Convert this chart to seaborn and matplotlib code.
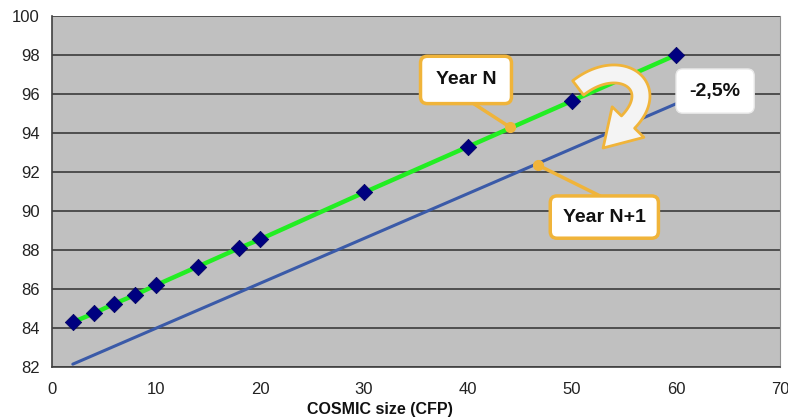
import matplotlib
matplotlib.use("Agg")
import matplotlib.pyplot as plt
from matplotlib.patches import Polygon
import numpy as np
import seaborn as sns
import pandas as pd

# Year N: measured productivity points
size_n = [2, 4, 6, 8, 10, 14, 18, 20, 30, 40, 50, 60]
value_n = [84.3, 84.75, 85.25, 85.7, 86.2, 87.15, 88.1, 88.55, 90.95, 93.3, 95.65, 98.0]
# Year N+1: trend line after the reduction
size_n1 = [2, 60]
value_n1 = [82.15, 95.5]

x_ticks = [0, 10, 20, 30, 40, 50, 60, 70]
y_ticks = [82, 84, 86, 88, 90, 92, 94, 96, 98, 100]
x_label = "COSMIC size (CFP)"
label_n = "Year N"
label_n1 = "Year N+1"
label_delta = "-2,5%"

df_n = pd.DataFrame({"size": size_n, "value": value_n})
df_n1 = pd.DataFrame({"size": size_n1, "value": value_n1})

sns.set_style("white")
plt.rcParams["font.family"] = ["Liberation Sans", "DejaVu Sans"]

fig = plt.figure(figsize=(7.88, 4.2), dpi=100)
ax = fig.add_axes([0.066, 0.126, 0.924, 0.836])
ax.set_facecolor("#c0c0c0")

orange = "#f0b43a"

sns.lineplot(data=df_n1, x="size", y="value", ax=ax, color="#3a5aa8", lw=2.2, zorder=3)
sns.lineplot(data=df_n, x="size", y="value", ax=ax, color="#22ee22", lw=3.2, zorder=3)
sns.scatterplot(data=df_n, x="size", y="value", ax=ax, marker="D", s=70,
                color="#000080", edgecolor="#000060", linewidth=0.5, zorder=4)

ax.set_xlim(0, 70)
ax.set_ylim(82, 100)
ax.set_xticks(x_ticks)
ax.set_yticks(y_ticks)
ax.yaxis.grid(True, color="#303030", lw=1.1)
ax.set_axisbelow(True)
ax.tick_params(axis="both", direction="out", length=5, width=1, color="#404040",
               labelsize=12, labelcolor="#222222", pad=4)
ax.tick_params(axis="x", pad=6)
for side in ["left", "bottom"]:
    ax.spines[side].set_color("#404040")
    ax.spines[side].set_linewidth(1.2)
ax.spines["right"].set_color("#909090")
ax.spines["top"].set_visible(False)
ax.set_xlabel(x_label, fontsize=11.5, fontweight="bold", color="#111111")
ax.xaxis.set_label_coords(0.45, -0.10)
ax.set_ylabel("")

# Callout connectors with their anchor dots
ax.plot([40.0, 44.0], [95.69, 94.31], color=orange, lw=2.5, zorder=5)
ax.plot([44.0], [94.31], "o", color=orange, ms=7, zorder=5)
ax.plot([52.7, 46.7], [90.77, 92.36], color=orange, lw=2.5, zorder=5)
ax.plot([46.7], [92.36], "o", color=orange, ms=7, zorder=5)

ax.text(39.8, 96.72, label_n, ha="center", va="center", fontsize=14,
        fontweight="bold", color="#111111", zorder=6,
        bbox=dict(boxstyle="round,pad=0.78,rounding_size=0.35", fc="white", ec=orange, lw=2.5))
ax.text(53.1, 89.69, label_n1, ha="center", va="center", fontsize=14,
        fontweight="bold", color="#111111", zorder=6,
        bbox=dict(boxstyle="round,pad=0.65,rounding_size=0.35", fc="white", ec=orange, lw=2.5))
ax.text(63.75, 96.15, label_delta, ha="center", va="center", fontsize=14,
        fontweight="bold", color="#111111", zorder=6,
        bbox=dict(boxstyle="round,pad=0.7,rounding_size=0.35", fc="white", ec="#e8e8e8", lw=1))


def curved_block_arrow(ax, ctrl, tip, tail_w=18.0, head_w=44.0, n=60, **kw):
    """Block arrow whose body follows a cubic Bezier (data coords), widths in pixels."""
    to_disp = ax.transData.transform
    to_data = ax.transData.inverted().transform
    c = to_disp(np.asarray(ctrl, dtype=float))
    t = np.linspace(0, 1, n)[:, None]
    pts = ((1 - t) ** 3 * c[0] + 3 * (1 - t) ** 2 * t * c[1]
           + 3 * (1 - t) * t ** 2 * c[2] + t ** 3 * c[3])
    d = np.gradient(pts, axis=0)
    d /= np.linalg.norm(d, axis=1)[:, None]
    nrm = np.column_stack([-d[:, 1], d[:, 0]])
    left = pts + nrm * tail_w / 2
    right = pts - nrm * tail_w / 2
    base = pts[-1]
    tip_d = to_disp(np.asarray(tip, dtype=float))
    hd = tip_d - base
    hd /= np.linalg.norm(hd)
    hn = np.array([-hd[1], hd[0]])
    outline = np.vstack([left,
                         base + hn * head_w / 2,
                         tip_d,
                         base - hn * head_w / 2,
                         right[::-1]])
    ax.add_patch(Polygon(to_data(outline), closed=True, **kw))


# Curved arrow showing the drop from Year N to Year N+1
arrow_ctrl = [(50.58, 96.31), (54.62, 98.0), (58.75, 96.41), (55.38, 94.56)]
arrow_tip = (52.98, 93.23)
curved_block_arrow(ax, arrow_ctrl, arrow_tip, fc="#f4f4f4", ec=orange, lw=2,
                   joinstyle="round", zorder=6)

fig.savefig("out.png", dpi=100, facecolor="white")
